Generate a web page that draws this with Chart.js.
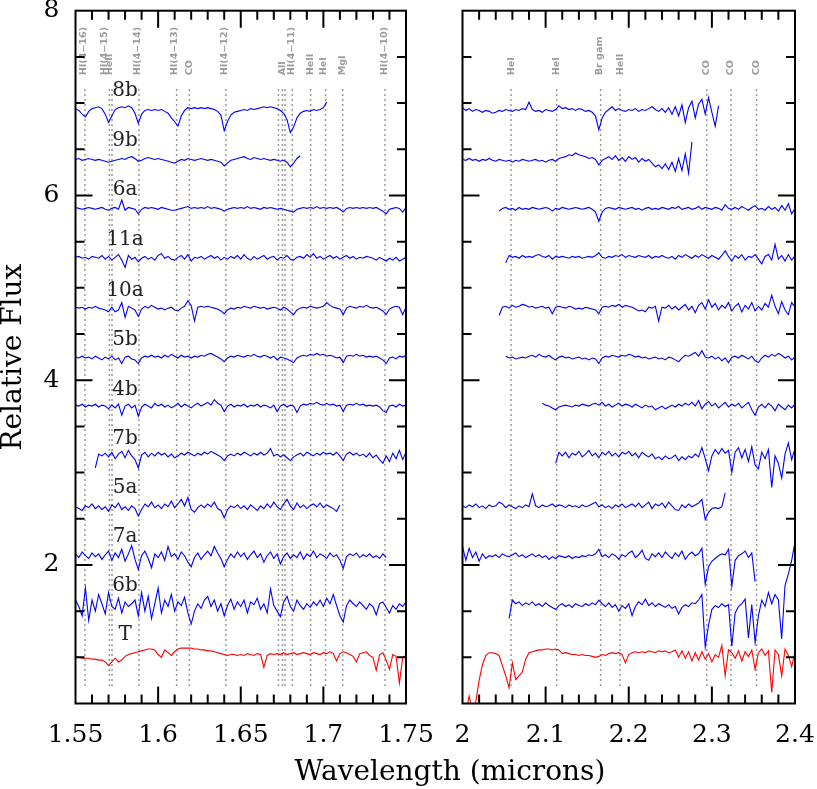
<!DOCTYPE html>
<html>
<head>
<meta charset="utf-8">
<script src="https://cdn.jsdelivr.net/npm/chart.js@4/dist/chart.umd.min.js"></script>
<style>
  body { margin: 0; background: #fff; }
  #wrap { position: relative; width: 817px; height: 789px; }
  canvas { position: absolute; top: 0; }
  #xtitle {
    position: absolute; left: 0; width: 900px; top: 757px;
    text-align: center; font: 28px "DejaVu Serif"; line-height: 28px; color: #000;
  }
</style>
</head>
<body>
<div id="wrap">
  <canvas id="hband" width="434" height="789" style="left:0"></canvas>
  <canvas id="kband" width="383" height="789" style="left:434px"></canvas>
  <div id="xtitle">Wavelength (microns)</div>
</div>
<script>
// spectra, top to bottom, with the offsets already applied
const names = ["8b", "9b", "6a", "11a", "10a", "5b", "4b", "7b", "5a", "7a", "6b", "T"];
const labelY = [7.13, 6.59, 6.06, 5.52, 4.97, 4.44, 3.90, 3.37, 2.83, 2.31, 1.77, 1.24];
const labelX = 1.58;

// H band: 0.002 micron sampling, first wavelength per spectrum
const hStep = 0.002;
const hStart = [1.55, 1.55, 1.55, 1.55, 1.55, 1.55, 1.55, 1.562, 1.55, 1.55, 1.55, 1.55];

const h8b = [6.94, 6.92, 6.88, 6.85, 6.91, 6.94, 6.95, 6.96, 6.94, 6.88,
  6.79, 6.86, 6.93, 6.95, 6.96, 6.95, 6.97, 6.95, 6.89, 6.78,
  6.88, 6.92, 6.93, 6.92, 6.93, 6.92, 6.93, 6.91, 6.89, 6.84,
  6.80, 6.75, 6.86, 6.92, 6.95, 6.94, 6.95, 6.94, 6.95, 6.94,
  6.95, 6.94, 6.93, 6.91, 6.87, 6.70, 6.80, 6.87, 6.90, 6.91,
  6.92, 6.93, 6.92, 6.94, 6.93, 6.94, 6.95, 6.96, 6.95, 6.96,
  6.95, 6.94, 6.92, 6.89, 6.82, 6.68, 6.74, 6.84, 6.89, 6.91,
  6.92, 6.91, 6.93, 6.92, 6.93, 6.95, 7.01];
const h9b = [6.39, 6.40, 6.38, 6.39, 6.40, 6.39, 6.38, 6.39, 6.38, 6.37,
  6.36, 6.37, 6.38, 6.39, 6.40, 6.39, 6.41, 6.42, 6.40, 6.37,
  6.38, 6.40, 6.41, 6.40, 6.39, 6.40, 6.39, 6.38, 6.37, 6.36,
  6.35, 6.37, 6.39, 6.38, 6.40, 6.39, 6.38, 6.39, 6.40, 6.39,
  6.38, 6.39, 6.38, 6.37, 6.36, 6.32, 6.35, 6.38, 6.39, 6.40,
  6.41, 6.42, 6.40, 6.39, 6.41, 6.40, 6.39, 6.40, 6.39, 6.38,
  6.39, 6.38, 6.37, 6.38, 6.36, 6.31, 6.35, 6.40, 6.43];
const h6a = [5.87, 5.86, 5.85, 5.86, 5.87, 5.86, 5.85, 5.86, 5.87, 5.85,
  5.84, 5.86, 5.87, 5.85, 5.95, 5.84, 5.87, 5.86, 5.85, 5.80,
  5.85, 5.87, 5.86, 5.87, 5.86, 5.85, 5.87, 5.86, 5.85, 5.84,
  5.84, 5.85, 5.86, 5.87, 5.88, 5.86, 5.87, 5.86, 5.87, 5.86,
  5.88, 5.86, 5.87, 5.86, 5.85, 5.83, 5.85, 5.86, 5.87, 5.86,
  5.87, 5.86, 5.88, 5.86, 5.87, 5.86, 5.85, 5.87, 5.86, 5.87,
  5.86, 5.85, 5.86, 5.85, 5.84, 5.83, 5.82, 5.85, 5.86, 5.87,
  5.86, 5.87, 5.86, 5.88, 5.86, 5.87, 5.86, 5.87, 5.86, 5.87,
  5.85, 5.82, 5.86, 5.87, 5.86, 5.87, 5.86, 5.87, 5.86, 5.87,
  5.86, 5.87, 5.85, 5.83, 5.80, 5.85, 5.86, 5.87, 5.86, 5.82,
  5.87];
const h11a = [5.33, 5.34, 5.32, 5.33, 5.31, 5.34, 5.33, 5.32, 5.35, 5.31,
  5.34, 5.30, 5.33, 5.36, 5.30, 5.22, 5.35, 5.31, 5.33, 5.28,
  5.32, 5.34, 5.31, 5.33, 5.30, 5.35, 5.37, 5.32, 5.34, 5.31,
  5.30, 5.33, 5.35, 5.31, 5.36, 5.29, 5.33, 5.32, 5.34, 5.31,
  5.33, 5.35, 5.32, 5.34, 5.30, 5.33, 5.31, 5.34, 5.32, 5.35,
  5.31, 5.36, 5.32, 5.30, 5.34, 5.31, 5.33, 5.35, 5.31, 5.33,
  5.34, 5.30, 5.33, 5.32, 5.35, 5.31, 5.30, 5.33, 5.34, 5.32,
  5.36, 5.33, 5.37, 5.32, 5.34, 5.31, 5.33, 5.35, 5.32, 5.34,
  5.31, 5.33, 5.35, 5.32, 5.34, 5.31, 5.33, 5.32, 5.34, 5.33,
  5.32, 5.30, 5.33, 5.31, 5.29, 5.32, 5.30, 5.33, 5.29, 5.31,
  5.33];
const h10a = [4.79, 4.78, 4.79, 4.77, 4.79, 4.78, 4.80, 4.78, 4.77, 4.76,
  4.74, 4.79, 4.74, 4.76, 4.84, 4.68, 4.80, 4.78, 4.76, 4.69,
  4.77, 4.80, 4.78, 4.81, 4.79, 4.77, 4.78, 4.76, 4.78, 4.79,
  4.76, 4.75, 4.78, 4.80, 4.86, 4.81, 4.64, 4.79, 4.80, 4.79,
  4.80, 4.79, 4.78, 4.77, 4.75, 4.72, 4.76, 4.78, 4.77, 4.79,
  4.78, 4.80, 4.79, 4.78, 4.80, 4.79, 4.78, 4.79, 4.77, 4.78,
  4.79, 4.78, 4.76, 4.79, 4.77, 4.74, 4.71, 4.76, 4.78, 4.79,
  4.78, 4.80, 4.79, 4.78, 4.79, 4.80, 4.84, 4.81, 4.79, 4.78,
  4.77, 4.71, 4.78, 4.80, 4.79, 4.78, 4.80, 4.79, 4.81, 4.79,
  4.78, 4.79, 4.77, 4.75, 4.71, 4.77, 4.79, 4.80, 4.79, 4.71,
  4.79];
const h5b = [4.25, 4.24, 4.26, 4.24, 4.25, 4.23, 4.26, 4.24, 4.22, 4.25,
  4.23, 4.26, 4.22, 4.24, 4.18, 4.25, 4.26, 4.23, 4.22, 4.18,
  4.24, 4.26, 4.25, 4.27, 4.25, 4.26, 4.24, 4.27, 4.25, 4.28,
  4.26, 4.24, 4.27, 4.25, 4.26, 4.24, 4.26, 4.25, 4.27, 4.26,
  4.28, 4.29, 4.27, 4.25, 4.23, 4.20, 4.24, 4.26, 4.25, 4.27,
  4.26, 4.25, 4.27, 4.26, 4.28, 4.26, 4.25, 4.27, 4.26, 4.24,
  4.26, 4.22, 4.25, 4.24, 4.23, 4.21, 4.19, 4.24, 4.26, 4.27,
  4.26, 4.28, 4.27, 4.29, 4.27, 4.28, 4.26, 4.27, 4.26, 4.24,
  4.25, 4.19, 4.26, 4.27, 4.26, 4.28, 4.26, 4.27, 4.25, 4.26,
  4.25, 4.26, 4.24, 4.22, 4.18, 4.24, 4.25, 4.23, 4.26, 4.25,
  4.27];
const h4b = [3.73, 3.72, 3.74, 3.71, 3.73, 3.72, 3.74, 3.71, 3.73, 3.72,
  3.69, 3.73, 3.70, 3.74, 3.62, 3.72, 3.74, 3.70, 3.73, 3.61,
  3.71, 3.74, 3.72, 3.70, 3.75, 3.72, 3.74, 3.71, 3.73, 3.70,
  3.72, 3.75, 3.71, 3.74, 3.72, 3.70, 3.73, 3.75, 3.72, 3.74,
  3.76, 3.73, 3.79, 3.75, 3.73, 3.66, 3.72, 3.74, 3.71, 3.73,
  3.72, 3.74, 3.71, 3.73, 3.72, 3.74, 3.71, 3.73, 3.72, 3.70,
  3.73, 3.66, 3.72, 3.74, 3.71, 3.73, 3.72, 3.65, 3.72, 3.74,
  3.73, 3.75, 3.74, 3.76, 3.74, 3.73, 3.75, 3.73, 3.74, 3.72,
  3.73, 3.66, 3.73, 3.74, 3.73, 3.75, 3.73, 3.74, 3.72, 3.73,
  3.72, 3.73, 3.71, 3.67, 3.65, 3.72, 3.73, 3.71, 3.74, 3.72,
  3.73];
const h7b = [3.05, 3.20, 3.18, 3.21,
  3.17, 3.22, 3.15, 3.20, 3.23, 3.16, 3.24, 3.18, 3.14, 3.05,
  3.19, 3.22, 3.17, 3.21, 3.18, 3.22, 3.19, 3.21, 3.17, 3.20,
  3.16, 3.18, 3.21, 3.19, 3.22, 3.20, 3.18, 3.21, 3.19, 3.22,
  3.20, 3.23, 3.21, 3.19, 3.17, 3.13, 3.18, 3.20, 3.18, 3.21,
  3.19, 3.22, 3.20, 3.18, 3.21, 3.19, 3.22, 3.19, 3.21, 3.26,
  3.18, 3.20, 3.17, 3.19, 3.16, 3.13, 3.17, 3.19, 3.21, 3.18,
  3.22, 3.20, 3.18, 3.21, 3.19, 3.22, 3.20, 3.21, 3.19, 3.22,
  3.18, 3.13, 3.20, 3.22, 3.19, 3.21, 3.18, 3.20, 3.17, 3.21,
  3.16, 3.19, 3.14, 3.10, 3.18, 3.12, 3.21, 3.15, 3.24, 3.14,
  3.22];
const h5a = [2.63, 2.61, 2.59, 2.64, 2.62, 2.66, 2.61, 2.64, 2.60, 2.63,
  2.58, 2.65, 2.62, 2.67, 2.60, 2.63, 2.59, 2.64, 2.61, 2.53,
  2.60, 2.66, 2.63, 2.68, 2.62, 2.65, 2.61, 2.66, 2.63, 2.69,
  2.62, 2.66, 2.71, 2.64, 2.73, 2.60, 2.57, 2.62, 2.65, 2.62,
  2.66, 2.63, 2.68, 2.61, 2.59, 2.51, 2.60, 2.64, 2.62, 2.65,
  2.61, 2.64, 2.60, 2.65, 2.62, 2.59, 2.64, 2.61, 2.66, 2.62,
  2.68, 2.63, 2.60, 2.66, 2.71, 2.64, 2.60, 2.67, 2.62, 2.65,
  2.61, 2.64, 2.66, 2.63, 2.67, 2.62, 2.65, 2.63, 2.61, 2.58,
  2.65];
const h7a = [2.12, 2.08, 2.14, 2.10, 2.07, 2.13, 2.09, 2.12, 2.06, 2.11,
  2.15, 2.05, 2.13, 2.08, 2.17, 2.04, 2.12, 2.21, 2.06, 1.95,
  2.10, 2.15, 2.07, 1.97, 2.12, 2.08, 2.14, 2.05, 2.20, 2.09,
  2.12, 2.06, 2.14, 2.10, 2.03, 1.98, 2.08, 2.13, 2.06, 2.11,
  2.15, 2.10, 2.20, 2.13, 2.07, 1.98, 2.06, 2.12, 2.08, 2.14,
  2.09, 2.13, 2.06, 2.11, 2.15, 2.08, 2.12, 2.03, 2.10, 2.14,
  2.07, 2.12, 2.01, 2.09, 2.13, 2.07, 2.11, 2.08, 2.14, 2.06,
  2.12, 2.09, 2.15, 2.08, 2.12, 2.10, 2.07, 2.13, 2.09, 2.11,
  2.05, 1.96, 2.09, 2.12, 2.10, 2.13, 2.08, 2.11, 2.09, 2.12,
  2.08, 2.10, 2.07, 2.12, 2.08];
const h6b = [1.62, 1.55, 1.45, 1.75, 1.40, 1.62, 1.50, 1.68, 1.58, 1.47,
  1.70, 1.55, 1.52, 1.64, 1.48, 1.60, 1.55, 1.58, 1.62, 1.45,
  1.70, 1.50, 1.66, 1.42, 1.58, 1.75, 1.48, 1.62, 1.55, 1.68,
  1.50, 1.60, 1.56, 1.65, 1.48, 1.36, 1.50, 1.58, 1.53, 1.62,
  1.66, 1.55, 1.62, 1.50, 1.58, 1.45, 1.56, 1.63, 1.52, 1.60,
  1.55, 1.62, 1.48, 1.60, 1.57, 1.64, 1.52, 1.58, 1.48, 1.74,
  1.56, 1.50, 1.44, 1.60, 1.66, 1.55, 1.50, 1.62, 1.56, 1.52,
  1.58, 1.54, 1.60, 1.56, 1.62, 1.55, 1.64, 1.58, 1.68, 1.56,
  1.45, 1.38, 1.56, 1.62, 1.58, 1.55, 1.60, 1.56, 1.52, 1.58,
  1.55, 1.46, 1.58, 1.60, 1.54, 1.48, 1.56, 1.52, 1.58, 1.55,
  1.60];
const hT = [1.00, 1.00, 0.99, 0.99, 0.99, 0.98, 0.98, 0.97, 0.97, 0.95,
  0.91, 0.95, 0.99, 0.95, 0.97, 1.01, 1.03, 1.04, 1.05, 1.06,
  1.07, 1.08, 1.09, 1.09, 1.08, 1.03, 1.00, 1.08, 1.05, 1.02,
  1.06, 1.09, 1.10, 1.10, 1.10, 1.10, 1.09, 1.09, 1.08, 1.08,
  1.07, 1.07, 1.06, 1.05, 1.04, 1.03, 1.02, 1.03, 1.03, 1.02,
  1.03, 1.02, 1.04, 1.03, 1.02, 1.04, 1.03, 0.89, 1.02, 1.04,
  1.03, 1.04, 1.03, 1.05, 1.03, 1.04, 1.05, 1.03, 1.04, 1.05,
  1.04, 1.03, 1.05, 1.04, 1.03, 1.05, 1.04, 1.06, 1.04, 0.96,
  1.04, 1.06, 1.05, 1.03, 1.01, 0.95, 1.04, 1.05, 1.06, 1.02,
  1.00, 0.86, 1.03, 1.05, 0.97, 0.87, 1.03, 1.01, 0.72, 1.00,
  1.02];
const hFlux = [h8b, h9b, h6a, h11a, h10a, h5b, h4b, h7b, h5a, h7a, h6b, hT];

// K band: 0.004 micron sampling
const kStep = 0.004;
const kStart = [2.0, 2.0, 2.044, 2.052, 2.044, 2.052, 2.096, 2.112, 2.0, 2.0, 2.056, 2.0];

const k8b = [6.95, 6.92, 6.94, 6.91, 6.93, 6.92, 6.90, 6.92, 6.91, 6.89,
  6.90, 6.92, 6.91, 6.93, 6.92, 6.91, 6.93, 6.92, 6.94, 6.93,
  7.01, 6.93, 6.91, 6.92, 6.90, 6.93, 6.92, 6.91, 6.93, 6.97,
  6.94, 6.95, 6.93, 6.94, 6.92, 6.94, 6.93, 6.91, 6.92, 6.90,
  6.86, 6.71, 6.84, 6.90, 6.93, 6.96, 6.92, 6.94, 6.92, 6.91,
  6.93, 6.92, 6.94, 6.91, 6.93, 6.92, 6.94, 6.96, 6.93, 6.91,
  6.94, 6.90, 6.95, 6.88, 6.96, 6.86, 6.98, 6.79, 6.95, 7.02,
  6.84, 6.99, 7.04, 6.88, 7.06, 6.90, 6.75, 6.97];
const k9b = [6.39, 6.38, 6.40, 6.38, 6.39, 6.37, 6.39, 6.38, 6.40, 6.38,
  6.37, 6.39, 6.38, 6.37, 6.38, 6.36, 6.38, 6.37, 6.39, 6.38,
  6.37, 6.38, 6.39, 6.37, 6.38, 6.36, 6.38, 6.39, 6.37, 6.40,
  6.41, 6.42, 6.44, 6.43, 6.46, 6.44, 6.43, 6.42, 6.40, 6.41,
  6.39, 6.33, 6.38, 6.40, 6.42, 6.39, 6.43, 6.38, 6.41, 6.37,
  6.42, 6.39, 6.41, 6.36, 6.40, 6.37, 6.39, 6.35, 6.31, 6.33,
  6.29, 6.34, 6.28, 6.36, 6.26, 6.40, 6.27, 6.45, 6.24, 6.58];
const k6a = [5.83, 5.86, 5.87, 5.85, 5.86, 5.84, 5.87, 5.85, 5.86,
  5.85, 5.87, 5.86, 5.85, 5.86, 5.87, 5.86, 5.83, 5.86, 5.85,
  5.87, 5.86, 5.85, 5.86, 5.87, 5.86, 5.85, 5.86, 5.87, 5.85,
  5.82, 5.72, 5.82, 5.86, 5.87, 5.86, 5.85, 5.87, 5.86, 5.85,
  5.86, 5.87, 5.85, 5.86, 5.84, 5.86, 5.87, 5.85, 5.86, 5.85,
  5.87, 5.86, 5.85, 5.87, 5.86, 5.88, 5.85, 5.86, 5.87, 5.85,
  5.86, 5.88, 5.85, 5.87, 5.86, 5.85, 5.87, 5.86, 5.84, 5.90,
  5.86, 5.85, 5.87, 5.85, 5.88, 5.86, 5.84, 5.87, 5.89, 5.85,
  5.86, 5.84, 5.88, 5.85, 5.87, 5.83, 5.89, 5.84, 5.91, 5.80,
  5.86];
const k11a = [5.27, 5.35, 5.33, 5.34, 5.32, 5.35, 5.33,
  5.34, 5.33, 5.35, 5.36, 5.34, 5.33, 5.35, 5.31, 5.34, 5.33,
  5.34, 5.33, 5.32, 5.34, 5.33, 5.34, 5.32, 5.33, 5.34, 5.33,
  5.35, 5.38, 5.33, 5.32, 5.34, 5.33, 5.35, 5.34, 5.36, 5.33,
  5.35, 5.34, 5.33, 5.35, 5.34, 5.33, 5.35, 5.32, 5.34, 5.33,
  5.35, 5.33, 5.32, 5.34, 5.31, 5.35, 5.33, 5.36, 5.34, 5.32,
  5.35, 5.33, 5.36, 5.34, 5.32, 5.35, 5.33, 5.31, 5.35, 5.40,
  5.34, 5.29, 5.35, 5.32, 5.36, 5.30, 5.34, 5.33, 5.36, 5.31,
  5.26, 5.34, 5.36, 5.30, 5.47, 5.31, 5.35, 5.29, 5.36, 5.30,
  5.35];
const k10a = [4.70, 4.79, 4.80, 4.78, 4.81, 4.79, 4.80, 4.82, 4.81,
  4.79, 4.80, 4.78, 4.79, 4.80, 4.78, 4.79, 4.72, 4.79, 4.80,
  4.79, 4.78, 4.80, 4.79, 4.77, 4.78, 4.77, 4.79, 4.78, 4.77,
  4.76, 4.72, 4.79, 4.80, 4.79, 4.81, 4.80, 4.82, 4.79, 4.81,
  4.80, 4.79, 4.77, 4.75, 4.76, 4.74, 4.79, 4.78, 4.80, 4.64,
  4.79, 4.78, 4.81, 4.77, 4.80, 4.76, 4.79, 4.82, 4.76, 4.80,
  4.73, 4.81, 4.84, 4.77, 4.87, 4.79, 4.83, 4.76, 4.81, 4.78,
  4.84, 4.75, 4.80, 4.83, 4.74, 4.81, 4.77, 4.84, 4.75, 4.80,
  4.76, 4.83, 4.79, 4.92, 4.80, 4.72, 4.85, 4.76, 4.71, 4.84,
  4.79];
const k5b = [4.26, 4.24, 4.25, 4.23, 4.24, 4.25, 4.24,
  4.26, 4.27, 4.25, 4.28, 4.26, 4.25, 4.27, 4.24, 4.22, 4.25,
  4.26, 4.24, 4.25, 4.23, 4.24, 4.25, 4.23, 4.24, 4.22, 4.24,
  4.23, 4.18, 4.24, 4.26, 4.25, 4.27, 4.26, 4.25, 4.27, 4.26,
  4.28, 4.27, 4.25, 4.26, 4.24, 4.25, 4.23, 4.24, 4.25, 4.23,
  4.24, 4.22, 4.25, 4.24, 4.22, 4.20, 4.24, 4.27, 4.26, 4.28,
  4.30, 4.26, 4.32, 4.25, 4.24, 4.26, 4.23, 4.25, 4.21, 4.24,
  4.19, 4.25, 4.26, 4.24, 4.27, 4.25, 4.23, 4.26, 4.21, 4.19,
  4.24, 4.27, 4.25, 4.28, 4.26, 4.29, 4.27, 4.24, 4.26, 4.22,
  4.25];
const k4b = [3.75, 3.73, 3.72, 3.70, 3.68, 3.71,
  3.72, 3.73, 3.72, 3.71, 3.73, 3.72, 3.74, 3.73, 3.72, 3.74,
  3.75, 3.73, 3.76, 3.72, 3.74, 3.71, 3.73, 3.75, 3.72, 3.74,
  3.73, 3.71, 3.74, 3.72, 3.70, 3.73, 3.71, 3.72, 3.68, 3.70,
  3.72, 3.69, 3.71, 3.73, 3.71, 3.74, 3.72, 3.75, 3.73, 3.76,
  3.72, 3.78, 3.69, 3.74, 3.77, 3.72, 3.75, 3.70, 3.73, 3.76,
  3.71, 3.74, 3.72, 3.75, 3.70, 3.73, 3.76, 3.68, 3.62, 3.71,
  3.74, 3.70, 3.75, 3.72, 3.67, 3.74, 3.71, 3.68, 3.73, 3.70,
  3.74];
const k7b = [3.10, 3.22,
  3.18, 3.22, 3.16, 3.21, 3.19, 3.23, 3.17, 3.20, 3.24, 3.18,
  3.21, 3.16, 3.22, 3.19, 3.23, 3.18, 3.21, 3.17, 3.22, 3.20,
  3.23, 3.18, 3.21, 3.16, 3.22, 3.19, 3.17, 3.20, 3.15, 3.17,
  3.14, 3.18, 3.15, 3.16, 3.19, 3.13, 3.17, 3.14, 3.18, 3.16,
  3.20, 3.17, 3.27, 3.15, 3.02, 3.18, 3.25, 3.20, 3.26, 3.21,
  3.24, 3.00, 3.22, 3.27, 3.16, 3.25, 3.12, 3.28, 3.08, 3.04,
  3.22, 3.15, 3.25, 2.84, 3.18, 3.10, 2.94, 3.20, 3.32, 3.14,
  3.26];
const k5a = [2.64, 2.62, 2.65, 2.63, 2.66, 2.62, 2.64, 2.61, 2.65, 2.63,
  2.64, 2.68, 2.66, 2.62, 2.65, 2.63, 2.61, 2.64, 2.62, 2.65,
  2.63, 2.77, 2.64, 2.62, 2.65, 2.63, 2.64, 2.66, 2.63, 2.65,
  2.64, 2.62, 2.65, 2.63, 2.64, 2.62, 2.65, 2.63, 2.64, 2.66,
  2.68, 2.63, 2.65, 2.62, 2.64, 2.61, 2.65, 2.63, 2.66, 2.62,
  2.64, 2.66, 2.63, 2.67, 2.62, 2.65, 2.68, 2.61, 2.66, 2.64,
  2.67, 2.62, 2.68, 2.64, 2.60, 2.59, 2.65, 2.62, 2.66, 2.63,
  2.65, 2.67, 2.71, 2.49, 2.57, 2.61, 2.62, 2.61, 2.63, 2.78];
const k7a = [2.20, 2.05, 2.18, 2.08, 2.14, 2.04, 2.12, 2.07, 2.10, 2.09,
  2.11, 2.08, 2.12, 2.10, 2.09, 2.11, 2.13, 2.09, 2.11, 2.08,
  2.10, 2.12, 2.09, 2.11, 2.08, 2.10, 2.06, 2.09, 2.07, 2.10,
  2.09, 2.08, 2.10, 2.07, 2.09, 2.08, 2.10, 2.09, 2.11, 2.10,
  2.12, 2.17, 2.09, 2.11, 2.08, 2.12, 2.10, 2.06, 2.11, 2.09,
  2.13, 2.15, 2.08, 2.11, 2.16, 2.07, 2.05, 2.12, 2.09, 2.13,
  2.08, 2.14, 2.10, 2.07, 2.13, 2.09, 2.15, 2.06, 2.11, 2.14,
  2.10, 2.12, 2.18, 1.79, 1.98, 2.04, 2.07, 2.10, 2.12, 2.11,
  2.17, 1.77, 2.05, 2.10, 2.12, 2.15, 2.08, 2.13, 1.82];
const k6b = [1.42, 1.62, 1.58, 1.60, 1.56, 1.59,
  1.57, 1.60, 1.56, 1.58, 1.55, 1.59, 1.56, 1.54, 1.52, 1.56,
  1.58, 1.55, 1.57, 1.54, 1.58, 1.56, 1.55, 1.58, 1.56, 1.59,
  1.57, 1.62, 1.58, 1.55, 1.59, 1.54, 1.57, 1.50, 1.56, 1.53,
  1.58, 1.45, 1.55, 1.60, 1.57, 1.63, 1.56, 1.59, 1.55, 1.58,
  1.56, 1.54, 1.57, 1.53, 1.55, 1.47, 1.54, 1.57, 1.55, 1.59,
  1.58, 1.62, 1.68, 1.11, 1.35, 1.52, 1.56, 1.54, 1.58, 1.55,
  1.57, 1.12, 1.48, 1.55, 1.58, 1.63, 1.21, 1.57, 1.16, 1.45,
  1.62, 1.55, 1.70, 1.58, 1.68, 1.62, 1.20, 1.78, 1.90, 2.05,
  2.25];
const kT = [0.35, 0.40, 0.58, 0.42, 0.52, 0.75, 0.92, 1.02, 1.05, 1.05,
  1.04, 1.02, 0.91, 0.80, 0.67, 0.94, 0.76, 0.80, 0.84, 0.98,
  1.05, 1.06, 1.07, 1.08, 1.08, 1.09, 1.09, 1.08, 1.09, 1.08,
  1.04, 1.05, 1.04, 1.03, 1.03, 1.02, 1.03, 1.02, 1.02, 1.01,
  1.00, 1.01, 1.03, 1.02, 1.04, 1.05, 1.04, 1.05, 1.03, 0.94,
  1.03, 1.05, 1.06, 1.05, 1.06, 1.05, 1.07, 1.06, 1.05, 1.07,
  1.06, 1.07, 1.05, 1.06, 1.08, 1.00, 1.07, 0.99, 1.06, 0.96,
  1.05, 0.97, 1.06, 0.98, 1.04, 0.95, 1.03, 1.00, 1.13, 0.80,
  1.08, 1.05, 0.99, 1.07, 0.96, 1.06, 1.01, 1.08, 0.87, 1.05,
  1.09, 1.02, 1.07, 0.62, 1.08, 1.03, 0.80, 1.09, 1.02, 0.90,
  1.06];
const kFlux = [k8b, k9b, k6a, k11a, k10a, k5b, k4b, k7b, k5a, k7a, k6b, kT];

// line identifications
const hLines = [1.5557, 1.5705, 1.5721, 1.5884, 1.6112, 1.6189, 1.6410, 1.6728, 1.6752, 1.6768, 1.6812, 1.6923, 1.7013, 1.7117, 1.7373];
const hLineNames = ["HI(4\u221216)", "HI(4\u221215)", "HeII", "HI(4\u221214)", "HI(4\u221213)", "CO", "HI(4\u221212)", "AlI", "HI(4\u221211)", "HeII", "HeI", "MgI", "HI(4\u221210)"];
const hLineNameX = [1.5550, 1.5679, 1.5709, 1.5880, 1.6104, 1.6192, 1.6405, 1.6754, 1.6810, 1.6923, 1.7004, 1.7117, 1.7373];
const kLines = [2.0584, 2.1133, 2.1662, 2.1895, 2.2938, 2.3230, 2.3538];
const kLineNames = ["HeI", "HeI", "Br gam", "HeII", "CO", "CO", "CO"];
const kLineNameX = [2.0592, 2.1141, 2.1654, 2.1903, 2.2945, 2.3230, 2.3539];

const lineTop = 7.17, lineBottom = 0.69, lineNameY = 7.30;

function spectrum(start, step, flux) {
  return flux.map((v, i) => ({ x: +(start + i * step).toFixed(4), y: v }));
}

function buildDatasets(starts, step, fluxes, lines) {
  const sets = fluxes.map((f, i) => ({
    data: spectrum(starts[i], step, f),
    borderColor: names[i] === "T" ? "#ff0000" : "#0000ff",
    borderWidth: 1.1,
    pointRadius: 0,
  }));
  lines.forEach((w) => {
    sets.push({
      data: [{ x: w, y: lineBottom }, { x: w, y: lineTop }],
      borderColor: "#9a9a9a",
      borderWidth: 1.5,
      borderDash: [2, 3],
      pointRadius: 0,
    });
  });
  return sets;
}

// frame, inward ticks on all sides, line names and spectrum names
const panelDeco = {
  id: "panelDeco",
  afterDatasetsDraw(chart, args, opts) {
    const { ctx, chartArea: a, scales: { x, y } } = chart;
    ctx.save();

    ctx.fillStyle = "#9c9c9c";
    ctx.font = 'bold 8px "DejaVu Sans"';
    ctx.textAlign = "left";
    ctx.textBaseline = "middle";
    opts.lineNames.forEach((t, i) => {
      ctx.save();
      ctx.translate(x.getPixelForValue(opts.lineNameX[i]), y.getPixelForValue(lineNameY));
      ctx.rotate(-Math.PI / 2);
      ctx.scale(1.2, 1);
      ctx.fillText(t, 0, 0);
      ctx.restore();
    });

    if (opts.showNames) {
      ctx.fillStyle = "#222";
      ctx.font = '20px "DejaVu Serif"';
      ctx.textAlign = "center";
      names.forEach((n, i) => {
        ctx.fillText(n, x.getPixelForValue(labelX), y.getPixelForValue(labelY[i]));
      });
    }

    ctx.strokeStyle = "#000";
    ctx.lineWidth = 2;
    ctx.beginPath();
    const nx = Math.round((x.max - x.min) / opts.minorX);
    for (let k = 1; k < nx; k++) {
      const px = x.getPixelForValue(x.min + k * opts.minorX);
      const len = k % 5 === 0 ? 17 : 9;
      ctx.moveTo(px, a.bottom); ctx.lineTo(px, a.bottom - len);
      ctx.moveTo(px, a.top); ctx.lineTo(px, a.top + len);
    }
    for (let k = 1; k < 15; k++) {
      const v = 0.5 + k * 0.5;
      const py = y.getPixelForValue(v);
      const len = v % 2 === 0 ? 17 : 9;
      ctx.moveTo(a.left, py); ctx.lineTo(a.left + len, py);
      ctx.moveTo(a.right, py); ctx.lineTo(a.right - len, py);
    }
    ctx.stroke();
    ctx.strokeRect(a.left, a.top, a.right - a.left, a.bottom - a.top);
    ctx.restore();
  },
};

Chart.defaults.font.family = '"DejaVu Serif"';
Chart.defaults.color = "#000";

function noPad(s) {
  s.paddingTop = 0; s.paddingBottom = 0; s.paddingLeft = 0; s.paddingRight = 0;
}

function makePanel(id, opt) {
  return new Chart(document.getElementById(id), {
    type: "line",
    data: { datasets: opt.datasets },
    plugins: [panelDeco],
    options: {
      responsive: false,
      animation: false,
      events: [],
      layout: { padding: opt.padding },
      plugins: {
        legend: { display: false },
        tooltip: { enabled: false },
        panelDeco: {
          minorX: opt.minorX,
          lineNames: opt.lineNames,
          lineNameX: opt.lineNameX,
          showNames: opt.showNames,
        },
      },
      scales: {
        x: {
          type: "linear",
          min: opt.xMin,
          max: opt.xMax,
          grid: { display: false, drawTicks: false },
          border: { display: false },
          ticks: {
            padding: 17,
            font: { size: 25 },
            maxRotation: 0,
            autoSkip: false,
            callback: (v) => String(+v.toFixed(2)),
          },
          afterBuildTicks: (s) => { s.ticks = opt.xTicks.map((v) => ({ value: v })); },
          afterFit: (s) => { s.height = 85.5; noPad(s); },
        },
        y: {
          type: "linear",
          display: opt.showY,
          min: 0.5,
          max: 8,
          grid: { display: false, drawTicks: false },
          border: { display: false },
          title: {
            display: true,
            text: "Relative Flux",
            font: { size: 28, lineHeight: 1 },
            padding: 0,
          },
          ticks: { padding: 16, font: { size: 25 } },
          afterBuildTicks: (s) => { s.ticks = [2, 4, 6, 8].map((v) => ({ value: v })); },
          afterFit: (s) => { s.width = opt.showY ? 75.5 : 0; noPad(s); },
        },
      },
    },
  });
}

makePanel("hband", {
  datasets: buildDatasets(hStart, hStep, hFlux, hLines),
  padding: { left: 0, right: 28, top: 10.7, bottom: 0 },
  xMin: 1.55, xMax: 1.75, minorX: 0.01,
  xTicks: [1.55, 1.6, 1.65, 1.7, 1.75],
  lineNames: hLineNames, lineNameX: hLineNameX,
  showNames: true, showY: true,
});

makePanel("kband", {
  datasets: buildDatasets(kStart, kStep, kFlux, kLines),
  padding: { left: 28.5, right: 22, top: 10.7, bottom: 0 },
  xMin: 2.0, xMax: 2.4, minorX: 0.02,
  xTicks: [2.0, 2.1, 2.2, 2.3, 2.4],
  lineNames: kLineNames, lineNameX: kLineNameX,
  showNames: false, showY: false,
});
</script>
</body>
</html>
